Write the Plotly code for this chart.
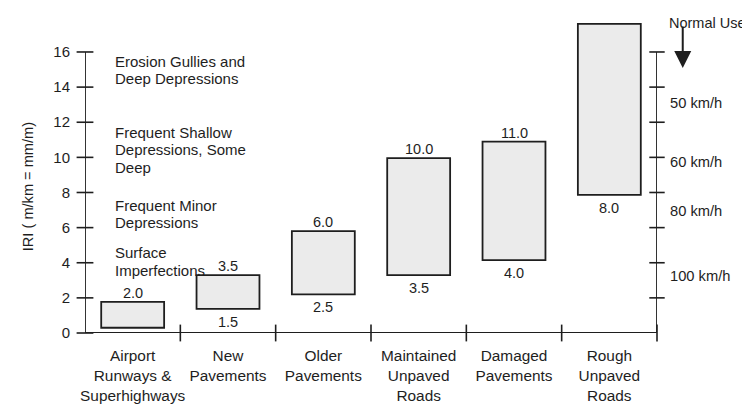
import plotly.graph_objects as go

# ---- data ----
categories = ["Airport<br>Runways &<br>Superhighways", "New<br>Pavements", "Older<br>Pavements",
              "Maintained<br>Unpaved<br>Roads", "Damaged<br>Pavements", "Rough<br>Unpaved<br>Roads"]
box_low = [0.3, 1.37, 2.2, 3.3, 4.15, 7.86]
box_high = [1.77, 3.3, 5.8, 9.96, 10.9, 17.6]
upper_labels = ["2.0", "3.5", "6.0", "10.0", "11.0", ""]
lower_labels = ["", "1.5", "2.5", "3.5", "4.0", "8.0"]

band_texts = ["Erosion Gullies and<br>Deep Depressions",
              "Frequent Shallow<br>Depressions, Some<br>Deep",
              "Frequent Minor<br>Depressions",
              "Surface<br>Imperfections"]
band_pos = [14.98, 10.42, 6.78, 4.07]

speed_labels = ["50 km/h", "60 km/h", "80 km/h", "100 km/h"]
speed_pos = [13.1, 9.74, 6.95, 3.25]

iri_ticks = [0, 2, 4, 6, 8, 10, 12, 14, 16]
cat_bounds = [0.5, 1.5, 2.5, 3.5, 4.5, 5.5]

FONT = "Liberation Sans, Arial, sans-serif"
INK = "#1e1e1e"
PAGE_OFFSET = 8  # default body margin of the page

n = len(categories)
xs = list(range(n))
x_left = -0.5
x_right = n - 0.5
y_top = max(iri_ticks)

fig = go.Figure()

fig.add_trace(go.Bar(
    x=xs, base=box_low, y=[h - l for h, l in zip(box_high, box_low)],
    width=0.66, marker=dict(color="#ebebeb", line=dict(color=INK, width=1.8)),
    hoverinfo="skip", showlegend=False))

# axis lines
fig.add_trace(go.Scatter(
    x=[x_left, x_left, x_right, x_right], y=[y_top, 0, 0, y_top], mode="lines",
    line=dict(color=INK, width=1.8), cliponaxis=False, showlegend=False, hoverinfo="skip"))
# crossing ticks left
fig.add_trace(go.Scatter(
    x=[x_left] * len(iri_ticks), y=iri_ticks, mode="markers",
    marker=dict(symbol="line-ew", size=12, line=dict(color=INK, width=1.6)),
    cliponaxis=False, showlegend=False, hoverinfo="skip"))
# crossing ticks right
fig.add_trace(go.Scatter(
    x=[x_right] * (len(iri_ticks) - 1), y=iri_ticks[1:], mode="markers",
    marker=dict(symbol="line-ew", size=11, line=dict(color=INK, width=1.6)),
    cliponaxis=False, showlegend=False, hoverinfo="skip"))
# crossing ticks on category axis
fig.add_trace(go.Scatter(
    x=cat_bounds, y=[0] * len(cat_bounds), mode="markers",
    marker=dict(symbol="line-ns", size=12, line=dict(color=INK, width=1.6)),
    cliponaxis=False, showlegend=False, hoverinfo="skip"))

ann = []
for i in xs:
    if upper_labels[i]:
        ann.append(dict(x=i, y=box_high[i], text=upper_labels[i], showarrow=False,
                        yshift=9, font=dict(size=14.5, color=INK, family=FONT)))
    if lower_labels[i]:
        ann.append(dict(x=i, y=box_low[i], text=lower_labels[i], showarrow=False,
                        yshift=-13, font=dict(size=14.5, color=INK, family=FONT)))

LINE = 17.5
for t, p in zip(band_texts, band_pos):
    lines = t.split("<br>")
    mid = (len(lines) - 1) / 2
    for k, ln in enumerate(lines):
        ann.append(dict(xref="paper", x=0.049, y=p, yshift=(mid - k) * LINE, text=ln,
                        showarrow=False, xanchor="left", align="left",
                        font=dict(size=15, color=INK, family=FONT)))

for t, p in zip(speed_labels, speed_pos):
    ann.append(dict(xref="paper", x=1.019, y=p, text=t, showarrow=False, xanchor="left",
                    font=dict(size=14.7, color=INK, family=FONT)))

ann.append(dict(xref="paper", yref="paper", x=1.017, y=1.032, text="Normal Use",
                showarrow=False, xanchor="left", font=dict(size=14.5, color=INK, family=FONT)))
ann.append(dict(xref="paper", yref="paper", x=1.045, y=0.855, text="", showarrow=True,
                ax=0, ay=-43, arrowhead=2, arrowsize=1.7, arrowwidth=2, arrowcolor=INK))

ann.append(dict(xref="paper", x=0, xshift=-67, y=8.3, text="IRI ( m/km = mm/m)",
                textangle=-90, showarrow=False, font=dict(size=14.6, color=INK, family=FONT)))

fig.update_layout(
    width=750 - PAGE_OFFSET, height=412 - PAGE_OFFSET,
    margin=dict(l=85 - PAGE_OFFSET, r=93, t=23 - PAGE_OFFSET, b=79, autoexpand=False),
    paper_bgcolor="white", plot_bgcolor="white",
    font=dict(family=FONT, color=INK, size=14),
    annotations=ann,
    xaxis=dict(range=[x_left, x_right], tickvals=xs, ticktext=categories, ticks="",
               showline=False, showgrid=False, zeroline=False, ticklabelstandoff=12,
               automargin=False, tickfont=dict(size=15.4, color=INK, family=FONT)),
    yaxis=dict(range=[0, 17.65], tickvals=iri_ticks, ticks="", showline=False,
               showgrid=False, zeroline=False, ticklabelstandoff=14, automargin=False,
               tickfont=dict(size=15, color=INK, family=FONT)),
)

fig.write_html("out.html")
